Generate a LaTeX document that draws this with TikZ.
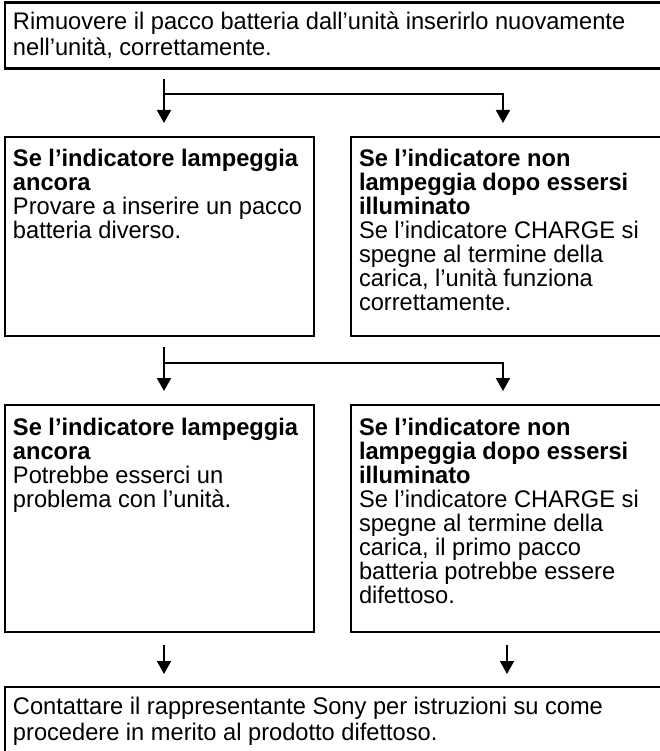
\documentclass[tikz,border=0pt]{standalone}
\usepackage{fontspec}
\setmainfont{Liberation Sans}[FakeStretch=0.985]
\usetikzlibrary{arrows.meta}
\newcommand{\bxtext}[5]{\begin{minipage}[t][#2pt][t]{#1pt}\fontsize{24pt}{#5pt}\selectfont\leftskip=8pt\relax\rule{0pt}{#3pt}#4\end{minipage}}
\tikzset{
  box/.style={draw, line width=2.1pt, anchor=north west, inner sep=0pt, outer sep=0pt},
  conn/.style={line width=1.8pt, -{Triangle[width=14pt,length=13pt]}},
  connthin/.style={line width=1.4pt, -{Triangle[width=14pt,length=13pt]}},
}
\begin{document}
\begin{tikzpicture}[x=1pt,y=-1pt]
\useasboundingbox (0,0) rectangle (659,751);
\node[box] (top) at (5,2.5) {\bxtext{657}{66}{27.5}{Rimuovere il pacco batteria dall’unità inserirlo nuovamente\\ nell’unità, correttamente.}{26}};
\node[box] (ml) at (5,137) {\bxtext{309}{199}{30}{{\bfseries Se l’indicatore lampeggia\\ ancora}\\ Provare a inserire un pacco\\ batteria diverso.}{24}};
\node[box] (mr) at (351,137) {\bxtext{311}{199}{30}{{\bfseries Se l’indicatore non\\ lampeggia dopo essersi\\ illuminato}\\ Se l’indicatore CHARGE si\\ spegne al termine della\\ carica, l’unità funziona\\ correttamente.}{24}};
\node[box] (ll) at (5,405) {\bxtext{309}{227}{30}{{\bfseries Se l’indicatore lampeggia\\ ancora}\\ Potrebbe esserci un\\ problema con l’unità.}{24}};
\node[box] (lr) at (351,405) {\bxtext{311}{227}{30}{{\bfseries Se l’indicatore non\\ lampeggia dopo essersi\\ illuminato}\\ Se l’indicatore CHARGE si\\ spegne al termine della\\ carica, il primo pacco\\ batteria potrebbe essere\\ difettoso.}{24}};
\node[box] (bt) at (5,687) {\bxtext{657}{73}{27}{Contattare il rappresentante Sony per istruzioni su come\\ procedere in merito al prodotto difettoso.}{26}};
\coordinate (a1) at (164,79);
\coordinate (j1) at (164,94);
\coordinate (t1l) at (164,123);
\coordinate (t1r) at (503,123);
\draw[conn] (a1) -- (t1l);
\draw[conn] (j1) -| (t1r);
\coordinate (a2) at (164,347);
\coordinate (j2) at (164,363);
\coordinate (t2l) at (164,391);
\coordinate (t2r) at (503,391);
\draw[conn] (a2) -- (t2l);
\draw[conn] (j2) -| (t2r);
\coordinate (a3l) at (164,645);
\coordinate (t3l) at (164,674);
\coordinate (a3r) at (507,645);
\coordinate (t3r) at (507,674);
\draw[connthin] (a3l) -- (t3l);
\draw[connthin] (a3r) -- (t3r);
\end{tikzpicture}
\end{document}
